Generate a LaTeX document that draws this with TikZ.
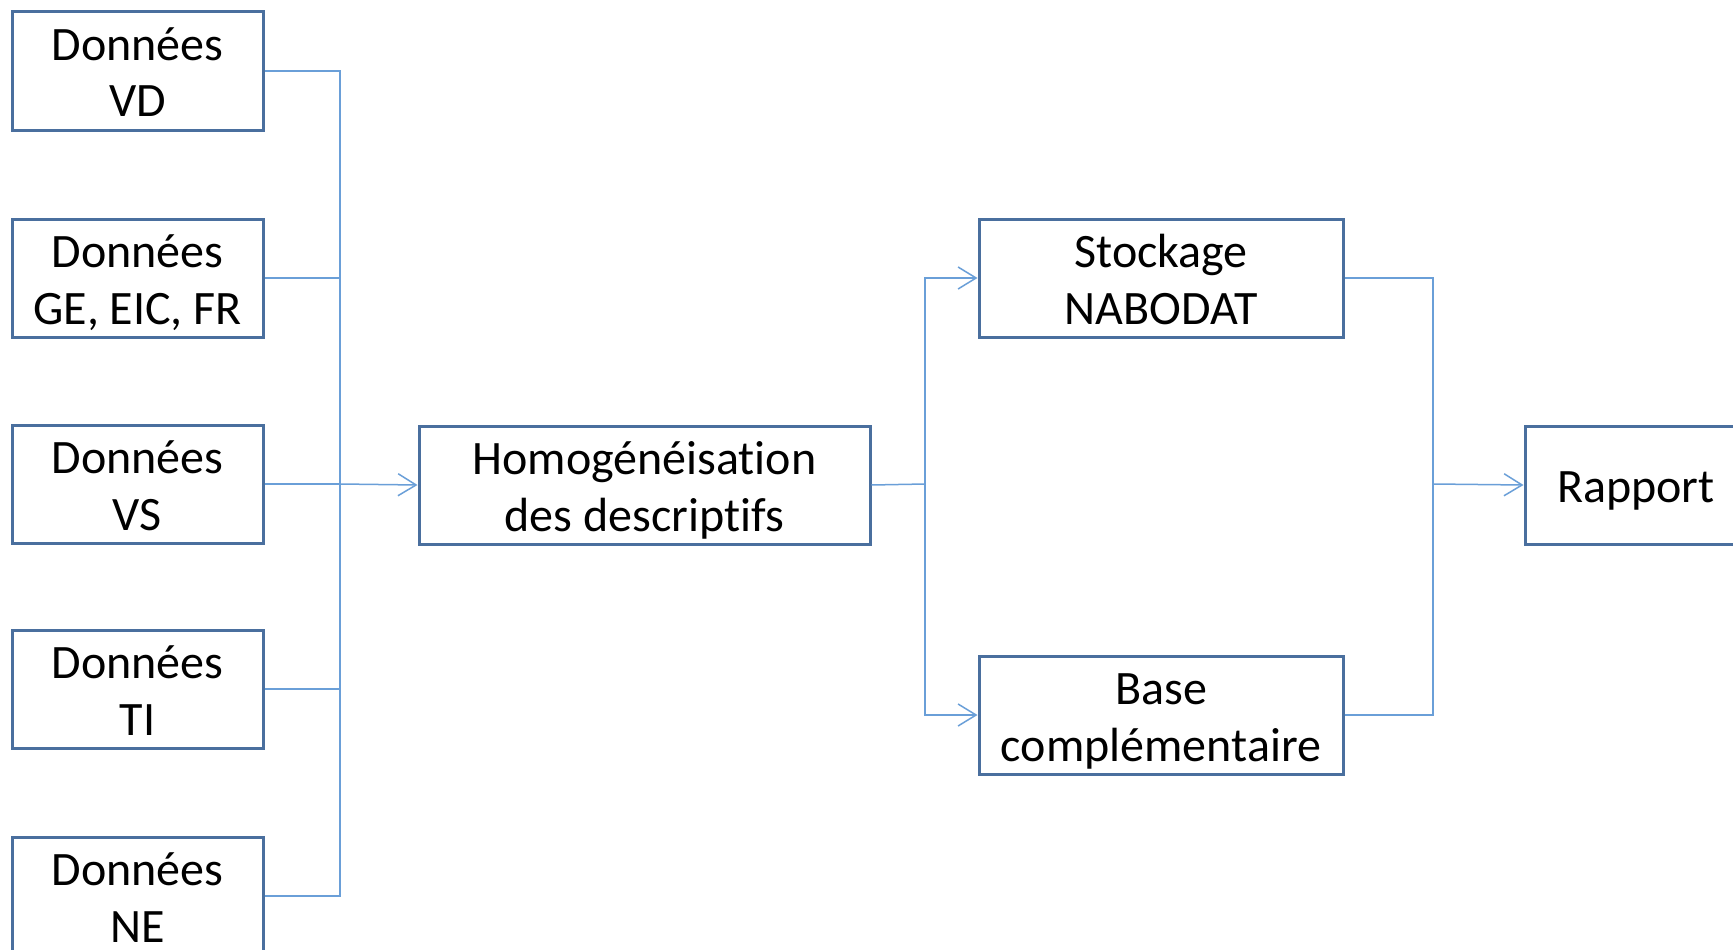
\documentclass[tikz,border=0pt]{standalone}
\usepackage{fontspec}
\setmainfont{Carlito}[Ligatures={NoCommon,NoContextual}]
\usetikzlibrary{arrows.meta}
\definecolor{boxblue}{HTML}{4A6F9E}
\definecolor{linkblue}{HTML}{6A9FD8}
\newcommand\topst{\rule{0pt}{46pt}}
\newcommand\botst{\rule[-11pt]{0pt}{11pt}}
\begin{document}
\begin{tikzpicture}[x=1pt,y=-1pt,
  box/.style={draw=boxblue, line width=3pt, fill=white, align=center,
    font=\fontsize{48}{57}\selectfont, inner sep=0pt, minimum height=118pt},
  link/.style={draw=linkblue, line width=1.5pt},
  tip/.style={-{Straight Barb[length=18pt,width=22pt]}}]
\useasboundingbox (0,0) rectangle (1733,950);
\clip (0,0) rectangle (1733,950);
\fill[white] (0,0) rectangle (1733,950);

\node[box, minimum width=251pt] (d1) at (137.5,71) {\topst Données\\VD\botst};
\node[box, minimum width=251pt] (d2) at (137.5,278) {\topst Données\\GE, EIC, FR\botst};
\node[box, minimum width=251pt] (d3) at (137.5,484) {\topst Données\\VS\botst};
\node[box, minimum width=251pt] (d4) at (137.5,689) {\topst Données\\TI\botst};
\node[box, minimum width=251pt] (d5) at (137.5,896) {\topst Données\\NE\botst};

\node[box, minimum width=451pt] (homog) at (644.5,485) {\topst Homogénéisation\\des descriptifs\botst};
\node[box, minimum width=364pt] (stock) at (1161,278) {\topst Stockage\\NABODAT\botst};
\node[box, minimum width=364pt] (base) at (1161,715) {\topst Base\\complémentaire\botst};
\node[box, minimum width=222pt] (rapport) at (1636,485) {\topst Rapport\botst};

\coordinate (bus) at (340,484);
\coordinate (split) at (925,484);
\coordinate (merge) at (1433,484);

\foreach \n in {d1,d2,d3,d4,d5}{
  \draw[link] (\n.east) -| (bus);
}
\draw[link,tip] (bus) -- (homog.west);
\draw[link] (homog.east) -- (split);
\draw[link,tip] (split) |- (stock.west);
\draw[link,tip] (split) |- (base.west);
\draw[link] (stock.east) -| (merge);
\draw[link] (base.east) -| (merge);
\draw[link,tip] (merge) -- (rapport.west);
\end{tikzpicture}
\end{document}
